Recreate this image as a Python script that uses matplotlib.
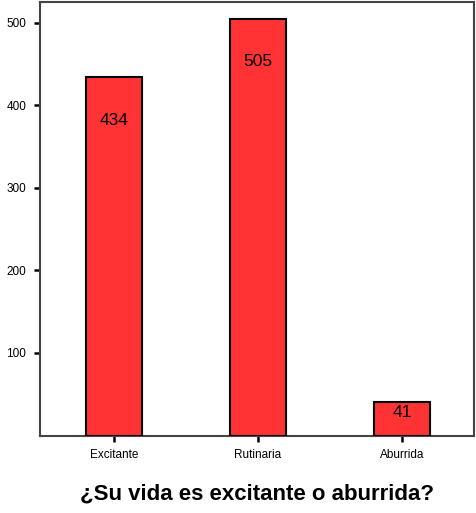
import matplotlib
matplotlib.use("Agg")
import matplotlib.pyplot as plt

categories = ["Excitante", "Rutinaria", "Aburrida"]
counts = [434, 505, 41]
yticks = [100, 200, 300, 400, 500]
title = "¿Su vida es excitante o aburrida?"

plt.rcParams['font.family'] = ['Liberation Sans', 'DejaVu Sans']

fig = plt.figure(figsize=(4.76, 5.13), dpi=100)
ax = fig.add_axes([0.084, 0.151, 0.912, 0.845])

x = list(range(len(categories)))
ax.bar(x, counts, width=0.39, color="#FF3333", edgecolor="black", linewidth=1.5, zorder=3)

for xi, v in zip(x, counts):
    ax.text(xi, v - min(52, 0.33 * v), str(v), ha="center", va="center",
            fontsize=12.5, color="black", zorder=4)

ax.set_xlim(-0.514, 2.5)
ax.set_ylim(0, 525)
ax.set_xticks(x)
ax.set_xticklabels(categories, fontsize=8.5)
ax.set_yticks(yticks)
ax.set_yticklabels([str(t) for t in yticks], fontsize=8.5)
ax.tick_params(axis="both", direction="out", length=4, width=1.8, color="black", pad=6)

for s in ax.spines.values():
    s.set_color("#444444")
    s.set_linewidth(1.5)

fig.text(0.5 * (0.084 + 0.996), 1 - 494 / 513, title, ha="center", va="center",
         fontsize=16, fontweight="bold")

fig.savefig("out.png", dpi=100)
